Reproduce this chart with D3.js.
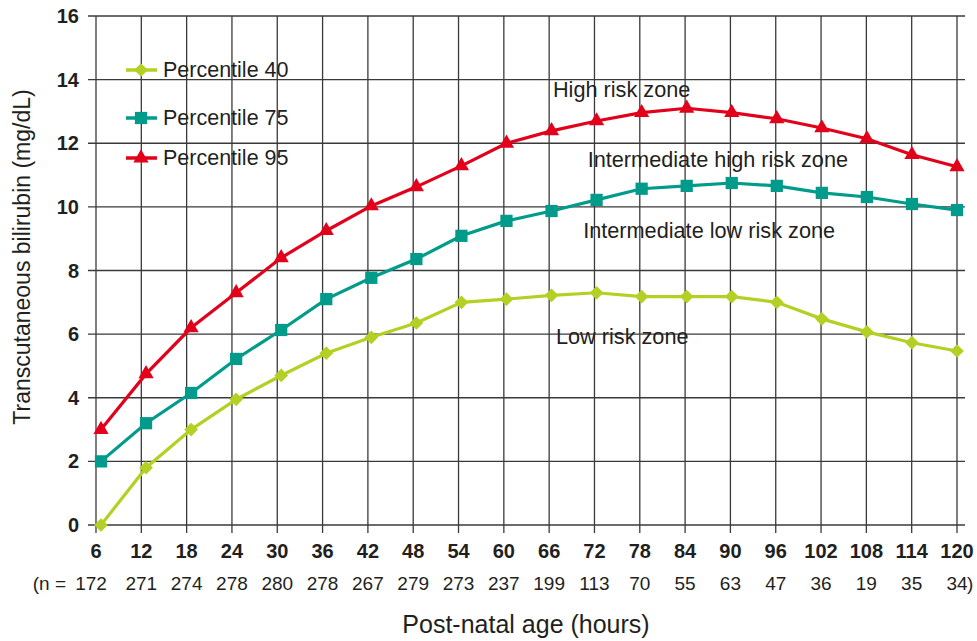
<!DOCTYPE html>
<html>
<head>
<meta charset="utf-8">
<script src="https://cdn.jsdelivr.net/npm/d3@7"></script>
<style>
  body { margin: 0; background: #fff; }
  text { font-family: "Liberation Sans", Arial, sans-serif; fill: #231f20; }
</style>
</head>
<body>
<script>
let svgWidth = 977;
let svgHeight = 641;

// data
let hours = [6, 12, 18, 24, 30, 36, 42, 48, 54, 60, 66, 72, 78, 84, 90, 96, 102, 108, 114, 120];
let nCounts = [172, 271, 274, 278, 280, 278, 267, 279, 273, 237, 199, 113, 70, 55, 63, 47, 36, 19, 35, 34];
let p40 = [0, 1.8, 3.0, 3.95, 4.7, 5.4, 5.9, 6.35, 7.0, 7.1, 7.22, 7.3, 7.18, 7.18, 7.18, 7.0, 6.48, 6.07, 5.73, 5.47];
let p75 = [2.0, 3.2, 4.15, 5.22, 6.13, 7.1, 7.77, 8.36, 9.09, 9.56, 9.87, 10.22, 10.57, 10.66, 10.75, 10.66, 10.44, 10.31, 10.09, 9.9];
let p95 = [3.0, 4.75, 6.2, 7.3, 8.4, 9.25, 10.03, 10.63, 11.29, 12.0, 12.39, 12.7, 12.96, 13.1, 12.96, 12.77, 12.48, 12.14, 11.64, 11.26];
let yTicks = [0, 2, 4, 6, 8, 10, 12, 14, 16];
let zoneLabels = [
  { text: "High risk zone", hour: 66.5, value: 13.45 },
  { text: "Intermediate high risk zone", hour: 71.1, value: 11.25 },
  { text: "Intermediate low risk zone", hour: 70.5, value: 9.02 },
  { text: "Low risk zone", hour: 66.9, value: 5.69 }
];

let series = [
  { name: "Percentile 40", values: p40, color: "#b3d124", symbol: d3.symbolDiamond2, size: 120 },
  { name: "Percentile 75", values: p75, color: "#009b8b", symbol: d3.symbolSquare, size: 150 },
  { name: "Percentile 95", values: p95, color: "#e2001a", symbol: d3.symbolTriangle, size: 100 }
];

let svg = d3.select("body")
  .append("svg")
  .attr("width", svgWidth)
  .attr("height", svgHeight);

let xScale = d3.scaleLinear()
  .domain([6, 120])
  .range([96, 957]);

// the markers in the original sit a little right of the grid at the left end
let xPoint = d3.scaleLinear()
  .domain([6, 120])
  .range([101, 957]);

let yScale = d3.scaleLinear()
  .domain([0, 16])
  .range([525, 16]);

// Grid - horizontal
svg.append("g")
  .selectAll("line")
  .data(yTicks)
  .join("line")
  .attr("x1", 88)
  .attr("x2", 965)
  .attr("y1", d => yScale(d))
  .attr("y2", d => yScale(d))
  .attr("stroke", "#3a3a3a")
  .attr("stroke-width", 1.3);

// Grid - vertical
svg.append("g")
  .selectAll("line")
  .data(hours)
  .join("line")
  .attr("x1", d => xScale(d))
  .attr("x2", d => xScale(d))
  .attr("y1", yScale(16))
  .attr("y2", yScale(0) + 8)
  .attr("stroke", "#3a3a3a")
  .attr("stroke-width", 1.3);

// Y tick labels
svg.append("g")
  .selectAll("text")
  .data(yTicks)
  .join("text")
  .attr("x", 79)
  .attr("y", d => yScale(d) + 7)
  .attr("text-anchor", "end")
  .attr("font-size", 20)
  .attr("font-weight", "bold")
  .text(d => d);

// X tick labels
svg.append("g")
  .selectAll("text")
  .data(hours)
  .join("text")
  .attr("x", d => xScale(d))
  .attr("y", 558)
  .attr("text-anchor", "middle")
  .attr("font-size", 20)
  .attr("font-weight", "bold")
  .text(d => d);

// n row
svg.append("g")
  .selectAll("text")
  .data(nCounts)
  .join("text")
  .attr("x", (d, i) => xScale(hours[i]) - (i === 0 ? 5 : 0))
  .attr("y", 590)
  .attr("text-anchor", "middle")
  .attr("font-size", 19)
  .text(d => d);

svg.append("text")
  .attr("x", xScale(6) - 30)
  .attr("y", 590)
  .attr("text-anchor", "end")
  .attr("font-size", 19)
  .text("(n =");

svg.append("text")
  .attr("x", xScale(120) + 10)
  .attr("y", 590)
  .attr("text-anchor", "start")
  .attr("font-size", 19)
  .text(")");

// Axis titles
svg.append("text")
  .attr("x", 526)
  .attr("y", 633)
  .attr("text-anchor", "middle")
  .attr("font-size", 25)
  .text("Post-natal age (hours)");

svg.append("text")
  .attr("transform", "translate(30, 257) rotate(-90)")
  .attr("text-anchor", "middle")
  .attr("font-size", 23)
  .text("Transcutaneous bilirubin (mg/dL)");

// Zone labels
svg.append("g")
  .selectAll("text")
  .data(zoneLabels)
  .join("text")
  .attr("x", d => xScale(d.hour))
  .attr("y", d => yScale(d.value))
  .attr("font-size", 21.7)
  .text(d => d.text);

// Lines and markers
let drawLine = d3.line()
  .x((d, i) => xPoint(hours[i]))
  .y(d => yScale(d));

series.forEach(function(s) {
  svg.append("path")
    .datum(s.values)
    .attr("d", drawLine)
    .attr("fill", "none")
    .attr("stroke", s.color)
    .attr("stroke-width", 3.2);

  svg.append("g")
    .selectAll("path")
    .data(s.values)
    .join("path")
    .attr("transform", (d, i) => `translate(${xPoint(hours[i])}, ${yScale(d)})`)
    .attr("d", d3.symbol().type(s.symbol).size(s.size))
    .attr("fill", s.color);
});

// Legend
let legend = svg.append("g")
  .selectAll("g")
  .data(series)
  .join("g")
  .attr("transform", (d, i) => `translate(126, ${[70, 118, 158][i]})`);

legend.append("line")
  .attr("x1", 0)
  .attr("x2", 31)
  .attr("stroke", d => d.color)
  .attr("stroke-width", 3.5);

legend.append("path")
  .attr("transform", "translate(15, 0)")
  .attr("d", d => d3.symbol().type(d.symbol).size(d.size)())
  .attr("fill", d => d.color);

legend.append("text")
  .attr("x", 37)
  .attr("y", 7)
  .attr("font-size", 21.5)
  .text(d => d.name);
</script>
</body>
</html>
